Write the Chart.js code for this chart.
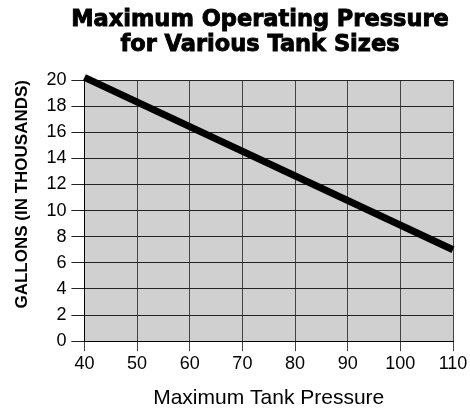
<!DOCTYPE html>
<html>
<head>
<meta charset="utf-8">
<script src="https://cdn.jsdelivr.net/npm/chart.js@4/dist/chart.umd.min.js"></script>
<style>
  html, body { margin: 0; padding: 0; background: #fff; }
  #wrap { width: 470px; height: 411px; }
</style>
</head>
<body>
<div id="wrap"><canvas id="pressureChart" width="470" height="411"></canvas></div>
<script>
// tank pressure vs. tank size (gallons, thousands)
const pressure = [40, 110];
const gallons = [20.2, 7.0];
const xTicks = [40, 50, 60, 70, 80, 90, 100, 110];
const yTicks = [0, 2, 4, 6, 8, 10, 12, 14, 16, 18, 20];
const titleLines = ["Maximum Operating Pressure", "for Various Tank Sizes"];

const ctx = document.getElementById("pressureChart").getContext("2d");

// gray fill behind the grid
const plotFill = {
  id: "plotFill",
  beforeDraw(chart) {
    const a = chart.chartArea;
    const c = chart.ctx;
    c.save();
    c.fillStyle = "#d0d0d0";
    c.fillRect(a.left, a.top, a.right - a.left, a.bottom - a.top);
    c.restore();
  },
};

// heavy two-line heading, a bit right of the canvas centre
const heading = {
  id: "heading",
  afterDraw(chart) {
    const c = chart.ctx;
    const cx = chart.width / 2 + 25;
    c.save();
    c.font = "bold 22.5px 'DejaVu Sans'";
    c.textAlign = "center";
    c.textBaseline = "middle";
    c.fillStyle = "#000";
    c.strokeStyle = "#000";
    c.lineWidth = 0.9;
    titleLines.forEach((t, i) => {
      const y = 20 + i * 25;
      c.fillText(t, cx, y);
      c.strokeText(t, cx, y);
    });
    c.restore();
  },
};

new Chart(ctx, {
  type: "line",
  data: {
    datasets: [
      {
        data: pressure.map((p, i) => ({ x: p, y: gallons[i] })),
        borderColor: "#000",
        borderWidth: 7,
        borderCapStyle: "butt",
        pointRadius: 0,
        fill: false,
        clip: false,
      },
    ],
  },
  options: {
    responsive: false,
    animation: false,
    layout: { padding: { top: 80, right: 17, left: 12, bottom: 0 } },
    plugins: {
      legend: { display: false },
      tooltip: { enabled: false },
      title: { display: false },
    },
    scales: {
      x: {
        type: "linear",
        min: 40,
        max: 110,
        afterBuildTicks: (s) => { s.ticks = xTicks.map((v) => ({ value: v })); },
        grid: { color: "#444", lineWidth: 1, tickLength: 10 },
        border: { color: "#000", width: 1 },
        ticks: {
          color: "#000",
          font: { family: "Liberation Sans", size: 18 },
          padding: 2,
          maxRotation: 0,
        },
        title: {
          display: true,
          text: "Maximum Tank Pressure",
          color: "#000",
          font: { family: "Liberation Sans", size: 21 },
          padding: { top: 9, bottom: 0 },
        },
      },
      y: {
        min: 0,
        max: 20,
        afterBuildTicks: (s) => { s.ticks = yTicks.map((v) => ({ value: v })); },
        grid: { color: "#222", lineWidth: 1, tickLength: 13 },
        border: { color: "#000", width: 1 },
        ticks: {
          color: "#000",
          font: { family: "Liberation Sans", size: 18 },
          padding: 5,
        },
        title: {
          display: true,
          text: "GALLONS (IN THOUSANDS)",
          align: "end",
          color: "#000",
          font: { family: "Liberation Sans", size: 17, weight: "bold" },
          padding: { top: 0, bottom: 9 },
        },
      },
    },
  },
  plugins: [plotFill, heading],
});
</script>
</body>
</html>
